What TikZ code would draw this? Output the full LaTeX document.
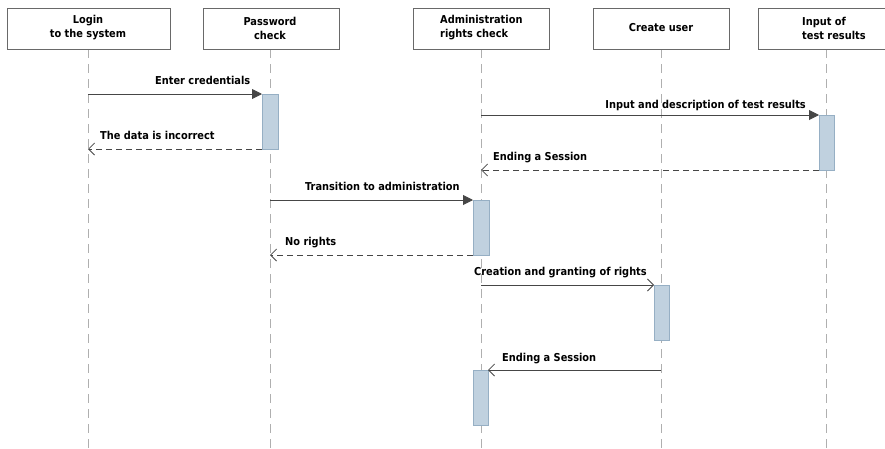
\documentclass[tikz,border=0pt]{standalone}
\usepackage{fontspec}
\setmainfont{DejaVu Sans Condensed}[BoldFont={DejaVu Sans Condensed Bold}]
\usetikzlibrary{arrows.meta}
\definecolor{boxline}{RGB}{105,105,105}
\definecolor{lifeline}{RGB}{175,175,175}
\definecolor{actfill}{RGB}{192,209,223}
\definecolor{actline}{RGB}{150,175,196}
\definecolor{msgline}{RGB}{70,70,70}
\tikzset{
  head/.style={draw=boxline, fill=white, line width=0.8pt},
  headtext/.style={font=\bfseries\fontsize{10.9}{14}\selectfont, align=center, inner sep=0pt},
  life/.style={draw=lifeline, line width=0.8pt, dash pattern=on 9pt off 6pt},
  act/.style={draw=actline, fill=actfill, line width=0.6pt},
  call/.style={draw=msgline, line width=0.9pt, -{Triangle[length=10pt,width=10pt]}},
  reply/.style={draw=msgline, line width=0.9pt, dash pattern=on 6pt off 4pt, -{Straight Barb[length=6pt,width=12pt,line width=0.8pt]}},
  asyn/.style={draw=msgline, line width=0.9pt, -{Straight Barb[length=6pt,width=12pt,line width=0.8pt]}},
  lbl/.style={font=\bfseries\fontsize{10.9}{13}\selectfont, inner sep=0pt, anchor=base west},
}
\begin{document}
\begin{tikzpicture}[x=1pt,y=-1pt]
\useasboundingbox (0,0) rectangle (885,448);
\fill[white] (0,0) rectangle (885,448);

% lifelines
\coordinate (l1) at (88,49);  \coordinate (l1e) at (88,448);
\coordinate (l2) at (270,49); \coordinate (l2e) at (270,448);
\coordinate (l3) at (481,49); \coordinate (l3e) at (481,448);
\coordinate (l4) at (661,49); \coordinate (l4e) at (661,448);
\coordinate (l5) at (826,49); \coordinate (l5e) at (826,448);
\foreach \i in {1,...,5} \draw[life] (l\i) -- (l\i e);

% header boxes
\draw[head] (7,8) rectangle (170,49);
\draw[head] (203,8) rectangle (339,49);
\draw[head] (413,8) rectangle (549,49);
\draw[head] (593,8) rectangle (729,49);
\draw[head] (890,8) -- (758,8) -- (758,49) -- (890,49);

\node[headtext] (h1) at (88,28) {Login\\to the system};
\node[headtext] (h2) at (270,28) {Password\\check};
\node[headtext, align=left, anchor=west] (h3) at (440,28) {Administration\\rights check};
\node[headtext] (h4) at (661,28) {Create user};
\node[headtext, align=left, anchor=west] (h5) at (802,28) {Input of\\test results};

% activation bars
\draw[act] (262,94) rectangle (278,149);  \coordinate (a1t) at (262,94);  \coordinate (a1b) at (262,149);
\draw[act] (819,115) rectangle (834,170); \coordinate (a2t) at (819,115); \coordinate (a2b) at (819,170);
\draw[act] (473,200) rectangle (489,255); \coordinate (a3t) at (473,200); \coordinate (a3b) at (473,255);
\draw[act] (654,285) rectangle (669,340); \coordinate (a4t) at (654,285);
\draw[act] (473,370) rectangle (488,425); \coordinate (a5t) at (488,370);

% message anchors on lifelines
\coordinate (m1) at (88,94);
\coordinate (m2) at (88,149);
\coordinate (m3) at (481,115);
\coordinate (m4) at (481,170);
\coordinate (m5) at (270,200);
\coordinate (m6) at (270,255);
\coordinate (m7) at (481,285);
\coordinate (m8) at (661,370);

% messages
\draw[call] (m1) -- (a1t);
\node[lbl] (t1) at (155,84) {Enter credentials};
\draw[reply] (a1b) -- (m2);
\node[lbl] (t2) at (100,139) {The data is incorrect};

\draw[call] (m3) -- (a2t);
\node[lbl, anchor=base east] (t3) at (806,108) {Input and description of test results};
\draw[reply] (a2b) -- (m4);
\node[lbl] (t4) at (493,160) {Ending a Session};

\draw[call] (m5) -- (a3t);
\node[lbl] (t5) at (305,190) {Transition to administration};
\draw[reply] (a3b) -- (m6);
\node[lbl] (t6) at (285,245) {No rights};

\draw[asyn] (m7) -- (a4t);
\node[lbl] (t7) at (474,275) {Creation and granting of rights};
\draw[asyn] (m8) -- (a5t);
\node[lbl] (t8) at (502,361) {Ending a Session};
\end{tikzpicture}
\end{document}
